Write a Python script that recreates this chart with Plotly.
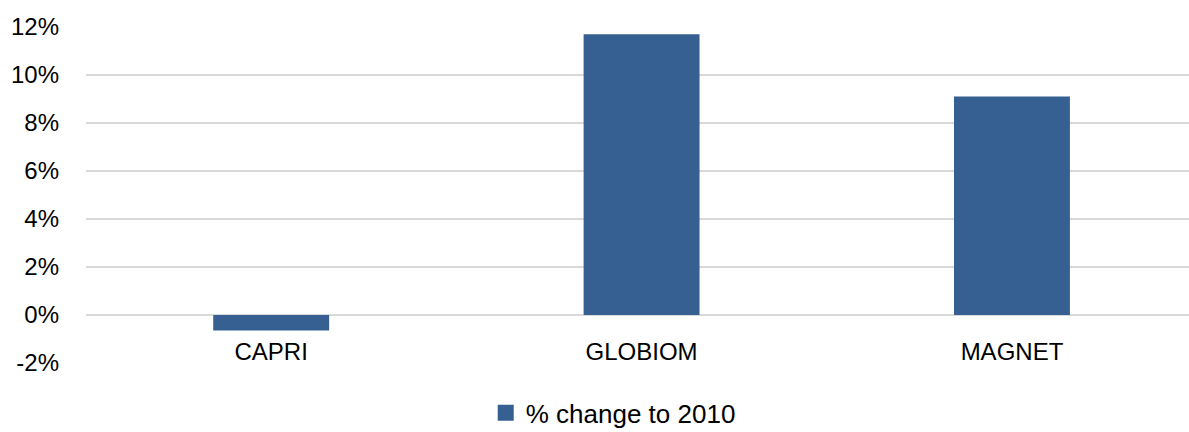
import plotly.graph_objects as go

categories = ["CAPRI", "GLOBIOM", "MAGNET"]
values = [-0.65, 11.7, 9.1]
series_name = "% change to 2010"
y_ticks = [-2, 0, 2, 4, 6, 8, 10, 12]
y_tick_labels = ["-2%", "0%", "2%", "4%", "6%", "8%", "10%", "12%"]

BAR = "#376092"
GRID = "#d9d9d9"
FONT = "Liberation Sans"

fig = go.Figure()
fig.add_trace(go.Bar(
    x=list(range(len(categories))),
    y=values,
    name=series_name,
    width=0.313,
    marker=dict(color=BAR, line=dict(width=0)),
    showlegend=False,
))
# legend entry with a larger square swatch
fig.add_trace(go.Scatter(
    x=[None], y=[None],
    mode="markers",
    name=series_name,
    marker=dict(symbol="square", size=17, color=BAR),
    showlegend=True,
))

fig.update_layout(
    width=1189, height=432,
    margin=dict(l=86, r=0, t=27, b=69, autoexpand=False),
    paper_bgcolor="white",
    plot_bgcolor="white",
    font=dict(family=FONT, size=24, color="#000000"),
    showlegend=True,
    legend=dict(
        orientation="h",
        x=0.478, xanchor="center",
        y=-0.148, yanchor="middle",
        font=dict(size=26),
        itemwidth=30,
    ),
    xaxis=dict(
        range=[-0.5, 2.478],
        tickmode="array",
        tickvals=list(range(len(categories))),
        ticktext=categories,
        showgrid=False,
        zeroline=False,
        showline=False,
        ticks="",
        anchor="free",
        position=1/7,
        ticklabelstandoff=20,
        tickfont=dict(size=24),
        automargin=False,
    ),
    yaxis=dict(
        range=[-2, 12],
        tickmode="array",
        tickvals=y_ticks,
        ticktext=y_tick_labels,
        showgrid=True,
        gridcolor=GRID,
        gridwidth=1.5,
        zeroline=False,
        showline=False,
        ticks="",
        ticklabelstandoff=26,
        tickfont=dict(size=24),
        automargin=False,
    ),
)

fig.write_html("out.html")
